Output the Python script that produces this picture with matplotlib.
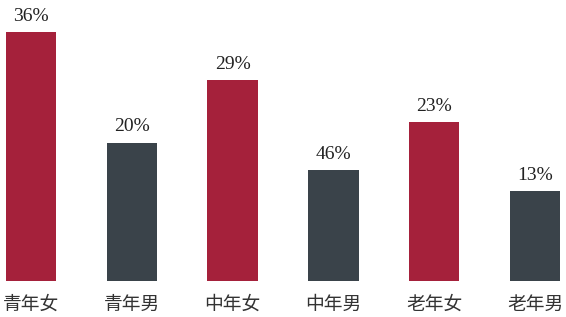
import matplotlib
matplotlib.use("Agg")
import matplotlib.pyplot as plt

# ── Data ──────────────────────────────────────────────────────────────────────
groups = ["青年女", "青年男", "中年女", "中年男", "老年女", "老年男"]
shares = [36, 20, 29, 16, 23, 13]           # bar heights as drawn (%)
share_labels = ["36%", "20%", "29%", "46%", "23%", "13%"]  # text printed above bars

# ── Styling ───────────────────────────────────────────────────────────────────
RED  = "#a5213b"
DARK = "#3a434a"
colors = [RED, DARK] * 3

fig = plt.figure(figsize=(5.66, 3.17), dpi=100, facecolor="white")
ax = fig.add_axes([0, 36 / 317, 1, 281 / 317])

x = range(len(groups))
bars = ax.bar(x, shares, width=0.5, color=colors)

ax.set_xlim(-0.3075, 5.307)
ax.set_ylim(0, 40.58)
ax.axis("off")

for rect, lab in zip(bars, share_labels):
    ax.annotate(lab, xy=(rect.get_x() + rect.get_width() / 2, rect.get_height()),
                xytext=(0, 8), textcoords="offset points",
                ha="center", va="baseline",
                fontsize=14, family="Liberation Serif", color="#222222")

for i, g in enumerate(groups):
    ax.annotate(g, xy=(i, 0), xycoords=("data", "axes fraction"),
                xytext=(0, -16.5), textcoords="offset points",
                ha="center", va="center",
                fontsize=13.5, fontweight="light",
                family=["Noto Sans CJK SC", "DejaVu Sans"],
                color="#333333")

fig.savefig("out.png", dpi=100, facecolor="white")
